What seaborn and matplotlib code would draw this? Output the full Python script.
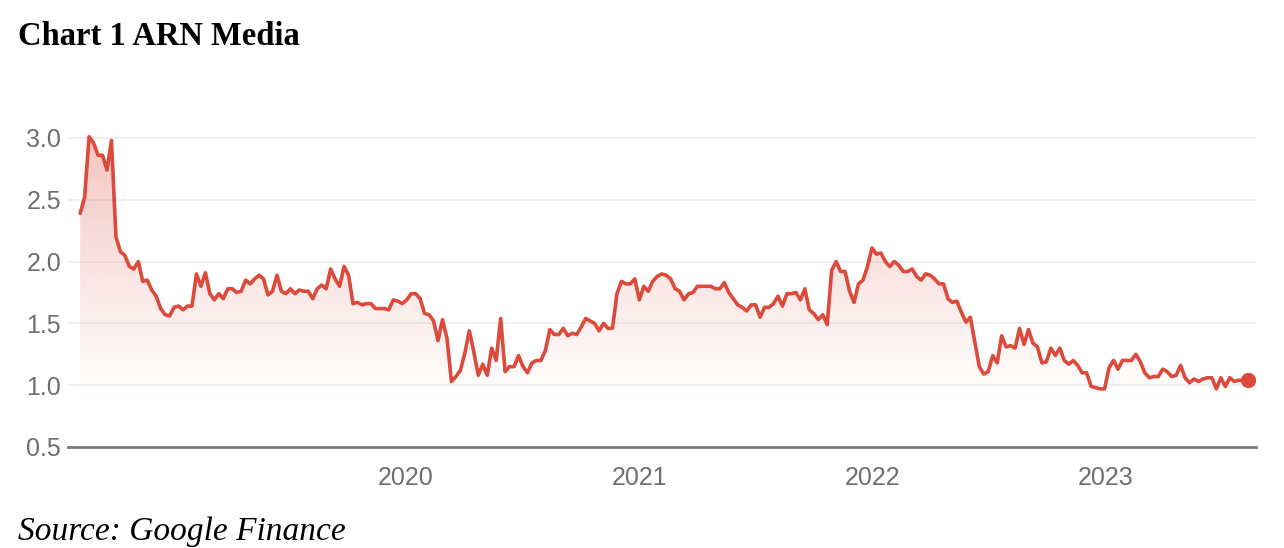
import numpy as np
import pandas as pd
import matplotlib
matplotlib.use("Agg")
import matplotlib.pyplot as plt
import matplotlib.dates as mdates
import seaborn as sns

# weekly closing price (AUD)
price = [
    # Aug 2018 - Mar 2019
    2.39, 2.52, 3.01, 2.96, 2.86, 2.86, 2.74, 2.98, 2.20, 2.08, 2.05, 1.96,
    1.94, 2.00, 1.84, 1.85, 1.77, 1.72, 1.62, 1.57, 1.56, 1.63, 1.64, 1.61,
    1.64, 1.64, 1.90, 1.80, 1.91, 1.74, 1.69, 1.74, 1.70, 1.78, 1.78,
    # 2019
    1.75, 1.76, 1.85, 1.82, 1.86, 1.89, 1.86, 1.73, 1.76, 1.89, 1.76, 1.74,
    1.78, 1.74, 1.77, 1.76, 1.76, 1.70, 1.78, 1.81, 1.78, 1.94, 1.86, 1.80,
    1.96, 1.89, 1.66, 1.67, 1.65, 1.66, 1.66, 1.62, 1.62, 1.62, 1.61, 1.69, 1.68,
    # 2020
    1.66, 1.69, 1.74, 1.74, 1.70, 1.58, 1.57, 1.52, 1.36, 1.53, 1.38, 1.03,
    1.07, 1.12, 1.26, 1.44, 1.27, 1.08, 1.17, 1.08, 1.30, 1.20, 1.54, 1.11,
    1.15, 1.15, 1.24, 1.15, 1.10, 1.18, 1.20, 1.20, 1.28, 1.45, 1.41, 1.41, 1.46,
    1.40, 1.42, 1.41, 1.47, 1.54, 1.52, 1.50, 1.44, 1.50, 1.46, 1.46, 1.74,
    # 2021
    1.84, 1.82, 1.82, 1.86, 1.69, 1.80, 1.76, 1.84, 1.88, 1.90, 1.89, 1.86,
    1.78, 1.76, 1.69, 1.74, 1.75, 1.80, 1.80, 1.80, 1.80, 1.78, 1.78, 1.83, 1.75,
    1.70, 1.65, 1.63, 1.60, 1.65, 1.65, 1.55, 1.63, 1.63, 1.66, 1.72, 1.64, 1.74,
    1.74, 1.75, 1.69, 1.78, 1.61, 1.58, 1.53, 1.57, 1.49, 1.93, 2.00, 1.92,
    1.92, 1.76, 1.67, 1.82, 1.85, 1.96,
    # 2022
    2.11, 2.06, 2.07, 2.00, 1.96, 2.00, 1.97,
    1.92, 1.92, 1.94, 1.88, 1.85, 1.90, 1.89, 1.86, 1.82, 1.82, 1.70, 1.67,
    1.68, 1.59, 1.51, 1.55, 1.35, 1.15, 1.09, 1.11, 1.24, 1.18, 1.40, 1.31,
    1.32, 1.30, 1.46, 1.33, 1.45, 1.34, 1.31, 1.18, 1.19, 1.30, 1.24, 1.30,
    1.20, 1.17, 1.20, 1.16, 1.10, 1.10, 0.99, 0.98, 0.97,
    # 2023
    0.97, 1.14, 1.20, 1.13, 1.20, 1.20, 1.20, 1.25, 1.19, 1.10, 1.06, 1.07,
    1.07, 1.13, 1.11, 1.07, 1.08, 1.16, 1.06, 1.02, 1.05, 1.03, 1.05, 1.06,
    1.06, 0.97, 1.06, 0.99, 1.06, 1.03, 1.04, 1.04, 1.04,
]
dates = pd.date_range(end="2023-08-11", periods=len(price), freq="7D")

year_labels = ["2020", "2021", "2022", "2023"]
y_ticks = [0.5, 1.0, 1.5, 2.0, 2.5, 3.0]
x_start, x_end = "2018-07-22", "2023-08-24"

df = pd.DataFrame({"date": dates, "price": price})

sns.set_theme(style="white")
plt.rcParams["font.family"] = ["Liberation Sans", "DejaVu Sans"]

red = "#db4a3b"
grey_txt = "#6b6f73"

fig = plt.figure(figsize=(12.84, 5.48), dpi=100)
ax = fig.add_axes([68 / 1284, 1 - 447 / 548, (1256 - 68) / 1284, (447 - 125.6) / 548])

x0 = mdates.date2num(pd.Timestamp(x_start))
x1 = mdates.date2num(pd.Timestamp(x_end))
y0, y1 = 0.5, 3.1

# gradient area under the line, fading out towards 1.0
poly = ax.fill_between(df["date"], df["price"], y0, facecolor="none", edgecolor="none")
levels = np.linspace(y0, y1, 256)
grad = np.zeros((256, 1, 4))
grad[..., :3] = matplotlib.colors.to_rgb(red)
grad[:, 0, 3] = np.clip((levels - 0.85) / (3.0 - 0.85), 0, 1) ** 1.1 * 0.32
img = ax.imshow(grad, extent=[x0, x1, y0, y1], origin="lower", aspect="auto", zorder=1)
img.set_clip_path(poly.get_paths()[0], ax.transData)

sns.lineplot(data=df, x="date", y="price", color=red, linewidth=2.6, ax=ax, zorder=3)
ax.plot(df["date"].iloc[-1], df["price"].iloc[-1], "o", ms=10, color=red, zorder=4)

ax.set_xlim(x0, x1)
ax.set_ylim(y0, y1)
ax.set_xlabel("")
ax.set_ylabel("")

ax.set_yticks(y_ticks)
ax.set_yticklabels([f"{v:.1f}" for v in y_ticks])
ax.set_xticks([pd.Timestamp(f"{y}-01-01") for y in year_labels])
ax.set_xticklabels(year_labels)

ax.yaxis.grid(True, color="#efefef", linewidth=1.3)
ax.set_axisbelow(True)
for side in ["top", "right", "left"]:
    ax.spines[side].set_visible(False)
ax.spines["bottom"].set_color("#7a7a7a")
ax.spines["bottom"].set_linewidth(2)

ax.tick_params(axis="y", length=0, pad=5, labelsize=18, labelcolor=grey_txt)
ax.tick_params(axis="x", length=10, width=1.2, color="#7a7a7a", pad=4,
               labelsize=18, labelcolor=grey_txt)

fig.text(18 / 1284, 1 - 45 / 548, "Chart 1 ARN Media", family="Liberation Serif",
         fontweight="bold", fontsize=23.5, color="black", va="baseline")
fig.text(18 / 1284, 1 - 540 / 548, "Source: Google Finance", family="Liberation Serif",
         style="italic", fontsize=24, color="black", va="baseline")

fig.savefig("out.png", dpi=100, facecolor="white")
